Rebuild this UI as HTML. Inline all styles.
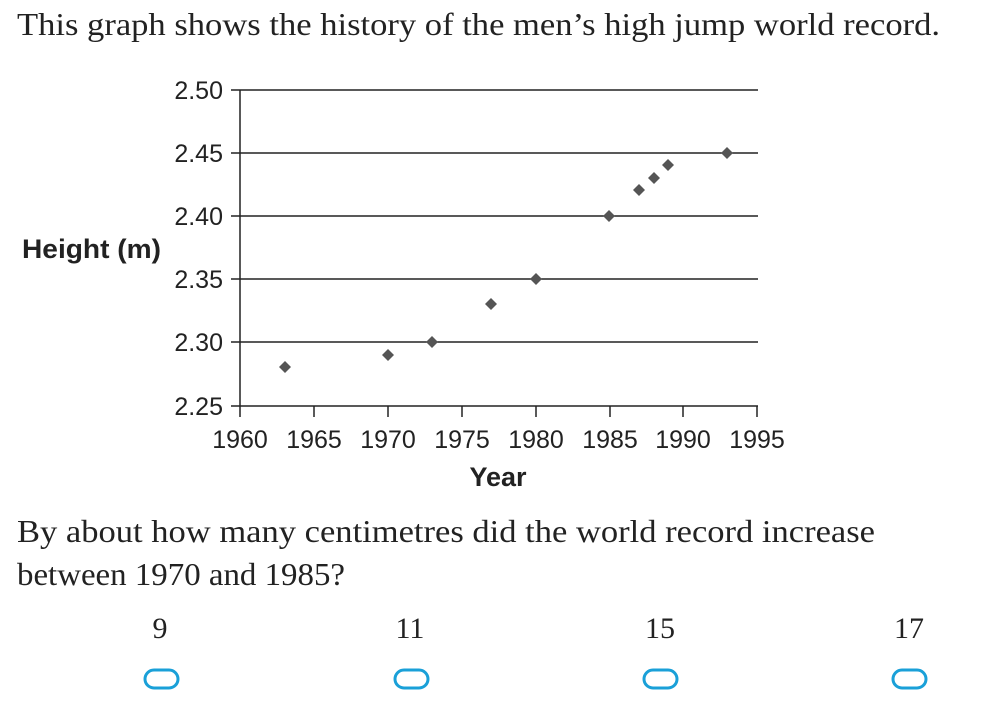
<!DOCTYPE html>
<html><head><style>
body{margin:0;width:987px;height:721px;background:#fff;overflow:hidden}
</style></head><body>
<svg width="987" height="721" xmlns="http://www.w3.org/2000/svg">
<text x="17" y="35" font-family="Liberation Serif, serif" font-size="32" fill="#222" textLength="923" lengthAdjust="spacingAndGlyphs">This graph shows the history of the men’s high jump world record.</text>
<g stroke="#222" stroke-width="1.5">
<line x1="231" y1="90" x2="758" y2="90"/>
<line x1="231" y1="153" x2="758" y2="153"/>
<line x1="231" y1="216" x2="758" y2="216"/>
<line x1="231" y1="279" x2="758" y2="279"/>
<line x1="231" y1="342" x2="758" y2="342"/>
<line x1="231" y1="406" x2="758" y2="406"/>
<line x1="240" y1="90" x2="240" y2="417"/>
<line x1="314" y1="406" x2="314" y2="417"/>
<line x1="388" y1="406" x2="388" y2="417"/>
<line x1="462" y1="406" x2="462" y2="417"/>
<line x1="536" y1="406" x2="536" y2="417"/>
<line x1="610" y1="406" x2="610" y2="417"/>
<line x1="683" y1="406" x2="683" y2="417"/>
<line x1="757" y1="406" x2="757" y2="417"/>
</g>
<g font-family="Liberation Sans, sans-serif" font-size="25" fill="#222" text-anchor="end">
<text x="223" y="99">2.50</text><text x="223" y="162">2.45</text><text x="223" y="225">2.40</text>
<text x="223" y="288">2.35</text><text x="223" y="351">2.30</text><text x="223" y="415">2.25</text>
</g>
<g font-family="Liberation Sans, sans-serif" font-size="25" fill="#222" text-anchor="middle">
<text x="240" y="448">1960</text><text x="314" y="448">1965</text><text x="388" y="448">1970</text>
<text x="462" y="448">1975</text><text x="536" y="448">1980</text><text x="610" y="448">1985</text>
<text x="683" y="448">1990</text><text x="757" y="448">1995</text>
<text x="498" y="486" font-weight="bold" font-size="27">Year</text>
</g>
<text x="22" y="258" font-family="Liberation Sans, sans-serif" font-size="27" font-weight="bold" fill="#222" textLength="139" lengthAdjust="spacingAndGlyphs">Height (m)</text>
<g fill="#555">
<path d="M285 361l6 6-6 6-6-6z"/><path d="M388 349l6 6-6 6-6-6z"/><path d="M432 336l6 6-6 6-6-6z"/>
<path d="M491 298l6 6-6 6-6-6z"/><path d="M536 273l6 6-6 6-6-6z"/><path d="M609 210l6 6-6 6-6-6z"/>
<path d="M639 184l6 6-6 6-6-6z"/><path d="M654 172l6 6-6 6-6-6z"/><path d="M668 159l6 6-6 6-6-6z"/>
<path d="M727 147l6 6-6 6-6-6z"/>
</g>
<g font-family="Liberation Serif, serif" font-size="32" fill="#222">
<text x="17" y="542" textLength="858" lengthAdjust="spacingAndGlyphs">By about how many centimetres did the world record increase</text>
<text x="17" y="585" textLength="328" lengthAdjust="spacingAndGlyphs">between 1970 and 1985?</text>
</g>
<g font-family="Liberation Serif, serif" font-size="30" fill="#222" text-anchor="middle">
<text x="160" y="638">9</text><text x="410" y="638">11</text><text x="660" y="638">15</text><text x="909" y="638">17</text>
</g>
<g fill="none" stroke="#1aa0d8" stroke-width="3">
<rect x="145" y="670" width="33" height="18" rx="9"/>
<rect x="395" y="670" width="33" height="18" rx="9"/>
<rect x="644" y="670" width="33" height="18" rx="9"/>
<rect x="893" y="670" width="33" height="18" rx="9"/>
</g>
</svg>
</body></html>
